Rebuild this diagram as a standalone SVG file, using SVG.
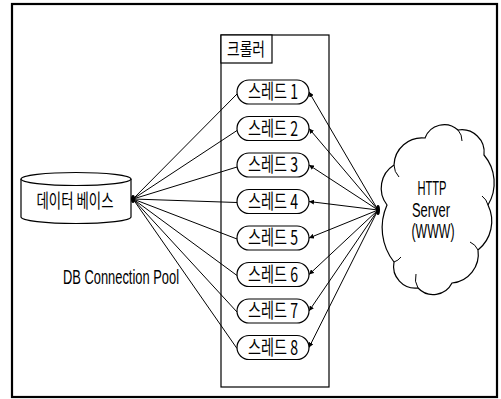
<svg xmlns="http://www.w3.org/2000/svg" width="501" height="399" viewBox="0 0 501 399">
  <style>
    .ln { stroke: #000; stroke-width: 1; fill: none; }
    .shape { fill: #fff; stroke: #000; stroke-width: 1.2; }
    .txt { font-family: "Noto Sans CJK KR", "Noto Sans", sans-serif; fill: #000; text-anchor: middle; }
    .lat { font-family: "Liberation Sans", "Noto Sans", sans-serif; fill: #000; text-anchor: middle; }
    .th { font-size: 20px; }
  </style>
  <defs>
    <marker id="arr" viewBox="0 0 10 10" refX="10" refY="5" markerWidth="5" markerHeight="5" orient="auto" markerUnits="userSpaceOnUse">
      <path d="M0,0 L10,5 L0,10 Z" fill="#000"/>
    </marker>
  </defs>

  <rect x="0" y="0" width="501" height="399" fill="#fff"/>
  <!-- outer frame -->
  <rect x="12" y="4" width="485" height="393" fill="none" stroke="#000" stroke-width="2.2"/>

  <!-- crawler container -->
  <g id="crawler">
    <rect x="221" y="35" width="108" height="352" class="shape" stroke-width="1"/>
    <rect x="221" y="35" width="51" height="28" class="shape" stroke-width="1"/>
    <text x="246" y="56" class="txt" font-size="18" textLength="38" lengthAdjust="spacingAndGlyphs">크롤러</text>
  </g>

  <!-- connectors -->
  <g id="connectors">
    <g class="ln">
      <line x1="133" y1="199" x2="237" y2="94"/>
      <line x1="133" y1="199" x2="237" y2="130.5"/>
      <line x1="133" y1="199" x2="237" y2="167"/>
      <line x1="133" y1="199" x2="237" y2="202.5"/>
      <line x1="133" y1="199" x2="237" y2="239"/>
      <line x1="133" y1="199" x2="237" y2="275.5"/>
      <line x1="133" y1="199" x2="237" y2="312"/>
      <line x1="133" y1="199" x2="237" y2="348.5"/>
    </g>
    <g class="ln" marker-end="url(#arr)">
      <line x1="378" y1="210" x2="309" y2="92"/>
      <line x1="378" y1="210" x2="309" y2="128.5"/>
      <line x1="378" y1="210" x2="309" y2="165"/>
      <line x1="378" y1="210" x2="309" y2="201.5"/>
      <line x1="378" y1="210" x2="309" y2="238"/>
      <line x1="378" y1="210" x2="309" y2="274.5"/>
      <line x1="378" y1="210" x2="309" y2="311"/>
      <line x1="378" y1="210" x2="309" y2="347.5"/>
    </g>
    <ellipse cx="133" cy="199" rx="2" ry="4" fill="#000"/>
    <ellipse cx="378" cy="210" rx="2" ry="5" fill="#000"/>
  </g>

  <!-- threads -->
  <g id="thread1"><rect x="237" y="80" width="72" height="24" rx="12" class="shape"/><text x="273" y="99" class="txt th" textLength="50" lengthAdjust="spacingAndGlyphs">스레드 1</text></g>
  <g id="thread2"><rect x="237" y="116.5" width="72" height="24" rx="12" class="shape"/><text x="273" y="135.5" class="txt th" textLength="50" lengthAdjust="spacingAndGlyphs">스레드 2</text></g>
  <g id="thread3"><rect x="237" y="153" width="72" height="24" rx="12" class="shape"/><text x="273" y="172" class="txt th" textLength="50" lengthAdjust="spacingAndGlyphs">스레드 3</text></g>
  <g id="thread4"><rect x="237" y="189.5" width="72" height="24" rx="12" class="shape"/><text x="273" y="208.5" class="txt th" textLength="50" lengthAdjust="spacingAndGlyphs">스레드 4</text></g>
  <g id="thread5"><rect x="237" y="226" width="72" height="24" rx="12" class="shape"/><text x="273" y="245" class="txt th" textLength="50" lengthAdjust="spacingAndGlyphs">스레드 5</text></g>
  <g id="thread6"><rect x="237" y="262.5" width="72" height="24" rx="12" class="shape"/><text x="273" y="281.5" class="txt th" textLength="50" lengthAdjust="spacingAndGlyphs">스레드 6</text></g>
  <g id="thread7"><rect x="237" y="299" width="72" height="24" rx="12" class="shape"/><text x="273" y="318" class="txt th" textLength="50" lengthAdjust="spacingAndGlyphs">스레드 7</text></g>
  <g id="thread8"><rect x="237" y="335.5" width="72" height="24" rx="12" class="shape"/><text x="273" y="354.5" class="txt th" textLength="50" lengthAdjust="spacingAndGlyphs">스레드 8</text></g>

  <!-- database cylinder -->
  <g id="database">
    <path d="M21,179 L21,217 A55,6.5 0 0 0 131,217 L131,179" class="shape"/>
    <ellipse cx="76" cy="179" rx="55" ry="6.5" class="shape"/>
    <text x="75" y="208" class="txt" font-size="19" textLength="77" lengthAdjust="spacingAndGlyphs">데이터 베이스</text>
  </g>

  <!-- pool label -->
  <text id="pool-label" x="121" y="284" class="lat" font-size="20" textLength="116" lengthAdjust="spacingAndGlyphs">DB Connection Pool</text>

  <!-- http server cloud -->
  <g id="http-server">
    <path class="shape" d="M387,205 A27.4,27.4 0 0 1 394,165 A28,28 0 0 1 425,138 A20.5,20.5 0 0 1 458,130 A22.5,22.5 0 0 1 484,155 A43,43 0 0 1 488,205 A37,37 0 0 1 478,250 A29,29 0 0 1 452,283 A21,21 0 0 1 418,288 A21.9,21.9 0 0 1 394,262 A55.5,55.5 0 0 1 387,205 Z"/>
    <g class="ln">
      <path d="M394,165 A18,18 0 0 0 399,177"/>
      <path d="M458,130 A16,16 0 0 1 462,141"/>
      <path d="M488,205 A16,16 0 0 0 482,196"/>
      <path d="M478,250 A16,16 0 0 0 470,242"/>
      <path d="M418,288 A18,18 0 0 1 416,274"/>
      <path d="M394,262 A14,14 0 0 0 401,257"/>
    </g>
    <text x="432" y="195" class="lat" font-size="21" textLength="29" lengthAdjust="spacingAndGlyphs">HTTP</text>
    <text x="431" y="217" class="lat" font-size="21" textLength="38" lengthAdjust="spacingAndGlyphs">Server</text>
    <text x="433" y="238" class="lat" font-size="21" textLength="43" lengthAdjust="spacingAndGlyphs">(WWW)</text>
  </g>
</svg>
